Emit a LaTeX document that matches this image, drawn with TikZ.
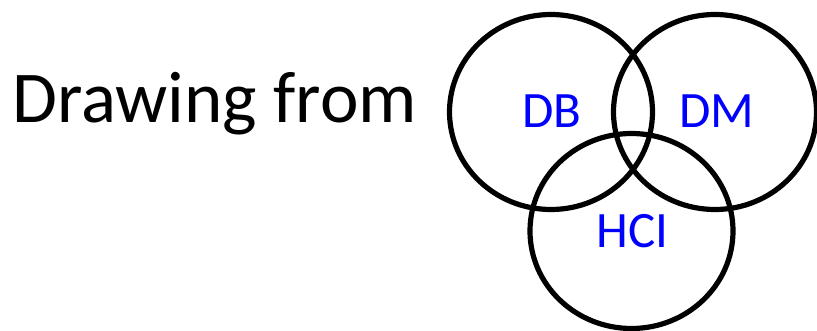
\documentclass[tikz,border=0pt]{standalone}
\usepackage{fontspec}
\setmainfont{Carlito}
\definecolor{lblblue}{RGB}{0,0,255}
\begin{document}
\begin{tikzpicture}[x=1pt,y=-1pt,
  ring/.style={draw=black,line width=5.2pt},
  lbl/.style={text=lblblue,font=\fontsize{51}{51}\selectfont,inner sep=0pt,anchor=base},
  title/.style={font=\fontsize{73}{73}\selectfont,inner sep=0pt,anchor=base west}]
\useasboundingbox (0,0) rectangle (817,331);
\draw[ring] (551,112) ellipse [x radius=101.5,y radius=97.5];
\draw[ring] (715,112) ellipse [x radius=101.5,y radius=97.5];
\draw[ring] (631.5,231) ellipse [x radius=101.5,y radius=97.5];
\node[title] (t) at (12,123) {Drawing from};
\node[lbl] (db) at (552,128) {DB};
\node[lbl] (dm) at (716.5,128) {DM};
\node[lbl] (hci) at (632.5,248) {HCI};
\end{tikzpicture}
\end{document}
